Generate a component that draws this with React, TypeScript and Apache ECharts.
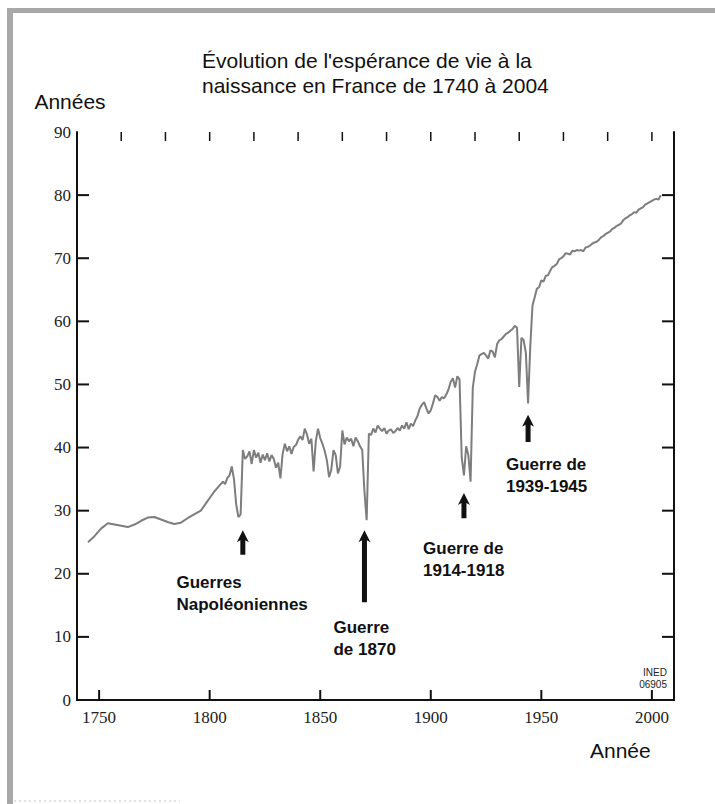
import React, { useEffect, useRef } from "react";
import * as echarts from "echarts";

// Life expectancy at birth in France
const years = [
  1745, 1748, 1751, 1754, 1757, 1760, 1763, 1766, 1769, 1772, 1775, 1778, 1781, 1784, 1787, 1790, 1793, 1796, 1798,
  1800, 1802, 1804, 1806, 1807, 1808, 1809, 1810, 1811, 1812, 1813, 1814, 1815, 1816, 1817, 1818, 1819,
  1820, 1821, 1822, 1823, 1824, 1825, 1826, 1827, 1828, 1829, 1830, 1831, 1832, 1833, 1834, 1835, 1836, 1837, 1838, 1839,
  1840, 1841, 1842, 1843, 1844, 1845, 1846, 1847, 1848, 1849, 1850, 1851, 1852, 1853, 1854, 1855, 1856, 1857, 1858, 1859,
  1860, 1861, 1862, 1863, 1864, 1865, 1866, 1867, 1868, 1869, 1870, 1871, 1872, 1873, 1874, 1875, 1876, 1877, 1878, 1879,
  1880, 1881, 1882, 1883, 1884, 1885, 1886, 1887, 1888, 1889, 1890, 1891, 1892, 1893, 1894, 1895, 1896, 1897, 1898, 1899,
  1900, 1901, 1902, 1903, 1904, 1905, 1906, 1907, 1908, 1909, 1910, 1911, 1912, 1913, 1914, 1915, 1916, 1917, 1918, 1919,
  1920, 1921, 1922, 1923, 1924, 1925, 1926, 1927, 1928, 1929, 1930, 1931, 1932, 1933, 1934, 1935, 1936, 1937, 1938, 1939,
  1940, 1941, 1942, 1943, 1944, 1945, 1946, 1947, 1948, 1949, 1950, 1951, 1952, 1953, 1954, 1955, 1956, 1957, 1958, 1959,
  1960, 1961, 1962, 1963, 1964, 1965, 1966, 1967, 1968, 1969, 1970, 1971, 1972, 1973, 1974, 1975, 1976, 1977, 1978, 1979,
  1980, 1981, 1982, 1983, 1984, 1985, 1986, 1987, 1988, 1989, 1990, 1991, 1992, 1993, 1994, 1995, 1996, 1997, 1998, 1999,
  2000, 2001, 2002, 2003, 2004,
];
const lifeExpectancy = [
  25.0, 26.0, 27.2, 28.0, 27.8, 27.6, 27.4, 27.8, 28.4, 28.9, 29.0, 28.6, 28.2, 27.9, 28.1, 28.8, 29.4, 30.0, 31.0,
  32.0, 33.0, 33.8, 34.6, 34.2, 35.2, 35.6, 37.0, 35.0, 31.0, 29.0, 29.4, 39.6, 38.2, 38.6, 39.4, 37.4,
  39.6, 38.4, 39.2, 37.6, 38.9, 38.0, 39.1, 37.8, 38.8, 38.2, 36.8, 37.6, 35.1, 39.0, 40.6, 39.4, 40.2, 39.0, 40.1, 40.4,
  41.2, 41.8, 41.2, 43.0, 42.1, 40.6, 41.4, 36.2, 41.0, 43.0, 41.5, 40.6, 39.5, 38.0, 35.3, 36.5, 39.6, 38.8, 35.9, 37.0,
  42.7, 40.5, 41.6, 41.0, 41.4, 40.2, 41.6, 41.0, 40.2, 39.6, 33.0, 28.5, 42.2, 42.0, 43.0, 42.4, 43.5, 43.0, 42.6, 43.1,
  42.2, 42.7, 42.9, 42.3, 42.6, 43.1, 42.7, 43.5, 43.0, 44.0, 42.9, 43.8, 43.4, 44.3, 45.0, 46.2, 46.8, 47.2, 46.2, 45.4,
  45.9, 47.0, 48.3, 48.0, 47.4, 48.0, 47.8, 48.4, 49.2, 50.4, 51.0, 49.5, 51.3, 50.8, 38.4, 35.6, 40.2, 38.8, 34.6, 49.5,
  52.0, 53.2, 54.6, 54.8, 55.0, 54.6, 54.1, 55.4, 55.2, 54.3, 56.4, 57.0, 57.2, 57.6, 58.0, 58.2, 58.5, 58.8, 59.3, 59.0,
  49.6, 57.4, 57.0, 55.0, 47.0, 56.0, 62.5, 63.8, 65.2, 65.4, 66.5, 66.3, 67.2, 67.3, 68.0, 68.6, 68.8, 69.1, 69.8, 70.0,
  70.3, 70.8, 70.7, 70.6, 71.2, 71.1, 71.3, 71.2, 71.3, 71.1, 71.7, 71.8, 72.0, 72.3, 72.5, 72.6, 72.9, 73.3, 73.5, 73.8,
  74.0, 74.2, 74.6, 74.8, 75.1, 75.3, 75.5, 76.0, 76.3, 76.5, 76.8, 77.0, 77.3, 77.2, 77.7, 77.9, 78.1, 78.5, 78.7, 78.9,
  79.1, 79.3, 79.4, 79.3, 80.0,
];

// Axis ticks
const bottomTickYears = [1750, 1800, 1850, 1900, 1950, 2000];
const topTickYears = [1760, 1780, 1800, 1820, 1840, 1860, 1880, 1900, 1920, 1940, 1960, 1980, 2000];
const sideTickValues = [10, 20, 30, 40, 50, 60, 70, 80];

// War arrows: year, tip value, base value
const arrowYears = [1815, 1870, 1915, 1944];
const arrowTips = [26.9, 26.9, 32.8, 45.2];
const arrowBases = [23.0, 15.5, 28.8, 40.9];

// War labels: text, year of left edge, value of top edge
const warLabels = ["Guerres\nNapoléoniennes", "Guerre\nde 1870", "Guerre de\n1914-1918", "Guerre de\n1939-1945"];
const labelYears = [1785, 1856, 1896.5, 1934];
const labelTops = [20.4, 13.3, 25.8, 39.0];

const X_MIN = 1740;
const X_MAX = 2010;
const Y_MIN = 0;
const Y_MAX = 90;

const SERIF = '"Liberation Serif", "DejaVu Serif", serif';
const SANS = '"Liberation Sans", Arial, sans-serif';

function tickSeries(data: number[][], dx: number, dy: number, width: number) {
  return {
    type: "custom",
    xAxisIndex: 0,
    yAxisIndex: 0,
    clip: false,
    silent: true,
    data,
    encode: { x: 0, y: 1 },
    renderItem: (params: any, api: any) => {
      const p = api.coord([api.value(0), api.value(1)]);
      return {
        type: "line",
        shape: { x1: p[0], y1: p[1], x2: p[0] + dx, y2: p[1] + dy },
        style: { stroke: "#111", lineWidth: width },
      };
    },
    z: 5,
  };
}

export default function App() {
  const ref = useRef<HTMLDivElement>(null);

  useEffect(() => {
    document.body.style.margin = "0";
    document.body.style.background = "#fff";
    const chart = echarts.init(ref.current!, null, { renderer: "svg" });

    const lineData = years.map((y, i) => [y, lifeExpectancy[i]]);
    const arrowData = arrowYears.map((y, i) => [y, arrowTips[i], arrowBases[i]]);
    const labelData = labelYears.map((y, i) => [y, labelTops[i]]);

    const axisLine = { show: true, lineStyle: { color: "#111", width: 2 } };

    chart.setOption({
      animation: false,
      backgroundColor: "#fff",
      title: {
        text: "Évolution de l'espérance de vie à la\nnaissance en France de 1740 à 2004",
        left: 197,
        top: 43,
        textStyle: { fontFamily: SANS, fontSize: 21, fontWeight: "normal", color: "#111", lineHeight: 25 },
      },
      grid: { left: 77, top: 132, width: 597, height: 568, containLabel: false },
      xAxis: [
        {
          type: "value",
          position: "bottom",
          min: X_MIN,
          max: X_MAX,
          axisLine,
          axisTick: { show: false },
          axisLabel: {
            show: true,
            customValues: bottomTickYears,
            formatter: (v: number) => String(v),
            fontFamily: SERIF,
            fontSize: 17,
            color: "#222",
            margin: 9,
          },
          splitLine: { show: false },
        },
        {
          type: "value",
          position: "top",
          min: X_MIN,
          max: X_MAX,
          axisLine,
          axisTick: { show: false },
          axisLabel: { show: false },
          splitLine: { show: false },
        },
      ],
      yAxis: [
        {
          type: "value",
          position: "left",
          min: Y_MIN,
          max: Y_MAX,
          interval: 10,
          name: "Années",
          nameLocation: "end",
          nameGap: 20,
          nameTextStyle: { fontFamily: SANS, fontSize: 21, color: "#111", padding: [0, 14, 0, 0] },
          axisLine,
          axisTick: { show: false },
          axisLabel: { show: true, fontFamily: SERIF, fontSize: 17, color: "#222", margin: 6 },
          splitLine: { show: false },
        },
        {
          type: "value",
          position: "right",
          min: Y_MIN,
          max: Y_MAX,
          interval: 10,
          axisLine,
          axisTick: { show: false },
          axisLabel: { show: false },
          splitLine: { show: false },
        },
      ],
      graphic: [
        { type: "rect", shape: { x: 7, y: 8, width: 6, height: 796 }, style: { fill: "#a8a8a8" }, silent: true },
        { type: "rect", shape: { x: 7, y: 8, width: 708, height: 5 }, style: { fill: "#a8a8a8" }, silent: true },
        {
          type: "line",
          shape: { x1: 14, y1: 801, x2: 180, y2: 801 },
          style: { stroke: "#c4c4c4", lineWidth: 1, lineDash: [2, 3] },
          silent: true,
        },
        {
          type: "text",
          x: 667,
          y: 666,
          style: { text: "INED\n06905", fontFamily: SANS, fontSize: 10, lineHeight: 12, fill: "#222", align: "right" },
          silent: true,
        },
        {
          type: "text",
          x: 590,
          y: 750,
          style: { text: "Année", fontFamily: SANS, fontSize: 21, fill: "#111", align: "left", verticalAlign: "middle" },
          silent: true,
        },
      ],
      series: [
        {
          type: "line",
          xAxisIndex: 0,
          yAxisIndex: 0,
          data: lineData,
          showSymbol: false,
          symbol: "none",
          lineStyle: { color: "#7d7d7d", width: 2 },
          z: 3,
        },
        tickSeries(bottomTickYears.map((y) => [y, Y_MIN]), 0, -10, 2),
        tickSeries(topTickYears.map((y) => [y, Y_MAX]), 0, 9, 1.5),
        tickSeries(sideTickValues.map((v) => [X_MIN, v]), 12, 0, 2),
        tickSeries(sideTickValues.map((v) => [X_MAX, v]), -12, 0, 2),
        {
          type: "custom",
          xAxisIndex: 0,
          yAxisIndex: 0,
          data: arrowData,
          encode: { x: 0, y: 1 },
          renderItem: (params: any, api: any) => {
            const tip = api.coord([api.value(0), api.value(1)]);
            const base = api.coord([api.value(0), api.value(2)]);
            const x = tip[0];
            const hw = 6;
            const hl = 12;
            const sw = 2.5;
            return {
              type: "polygon",
              shape: {
                points: [
                  [x, tip[1]],
                  [x + hw, tip[1] + hl],
                  [x + sw, tip[1] + hl - 2],
                  [x + sw, base[1]],
                  [x - sw, base[1]],
                  [x - sw, tip[1] + hl - 2],
                  [x - hw, tip[1] + hl],
                ],
              },
              style: { fill: "#111" },
            };
          },
          z: 4,
        },
        {
          type: "custom",
          xAxisIndex: 0,
          yAxisIndex: 0,
          data: labelData,
          encode: { x: 0, y: 1 },
          renderItem: (params: any, api: any) => {
            const p = api.coord([api.value(0), api.value(1)]);
            return {
              type: "text",
              x: p[0],
              y: p[1],
              style: {
                text: warLabels[params.dataIndex],
                fontFamily: SANS,
                fontSize: 17,
                fontWeight: "bold",
                lineHeight: 22,
                fill: "#111",
                align: "left",
                verticalAlign: "top",
              },
            };
          },
          z: 4,
        },
      ],
    });

    return () => chart.dispose();
  }, []);

  return <div ref={ref} style={{ width: 715, height: 804 }} />;
}
